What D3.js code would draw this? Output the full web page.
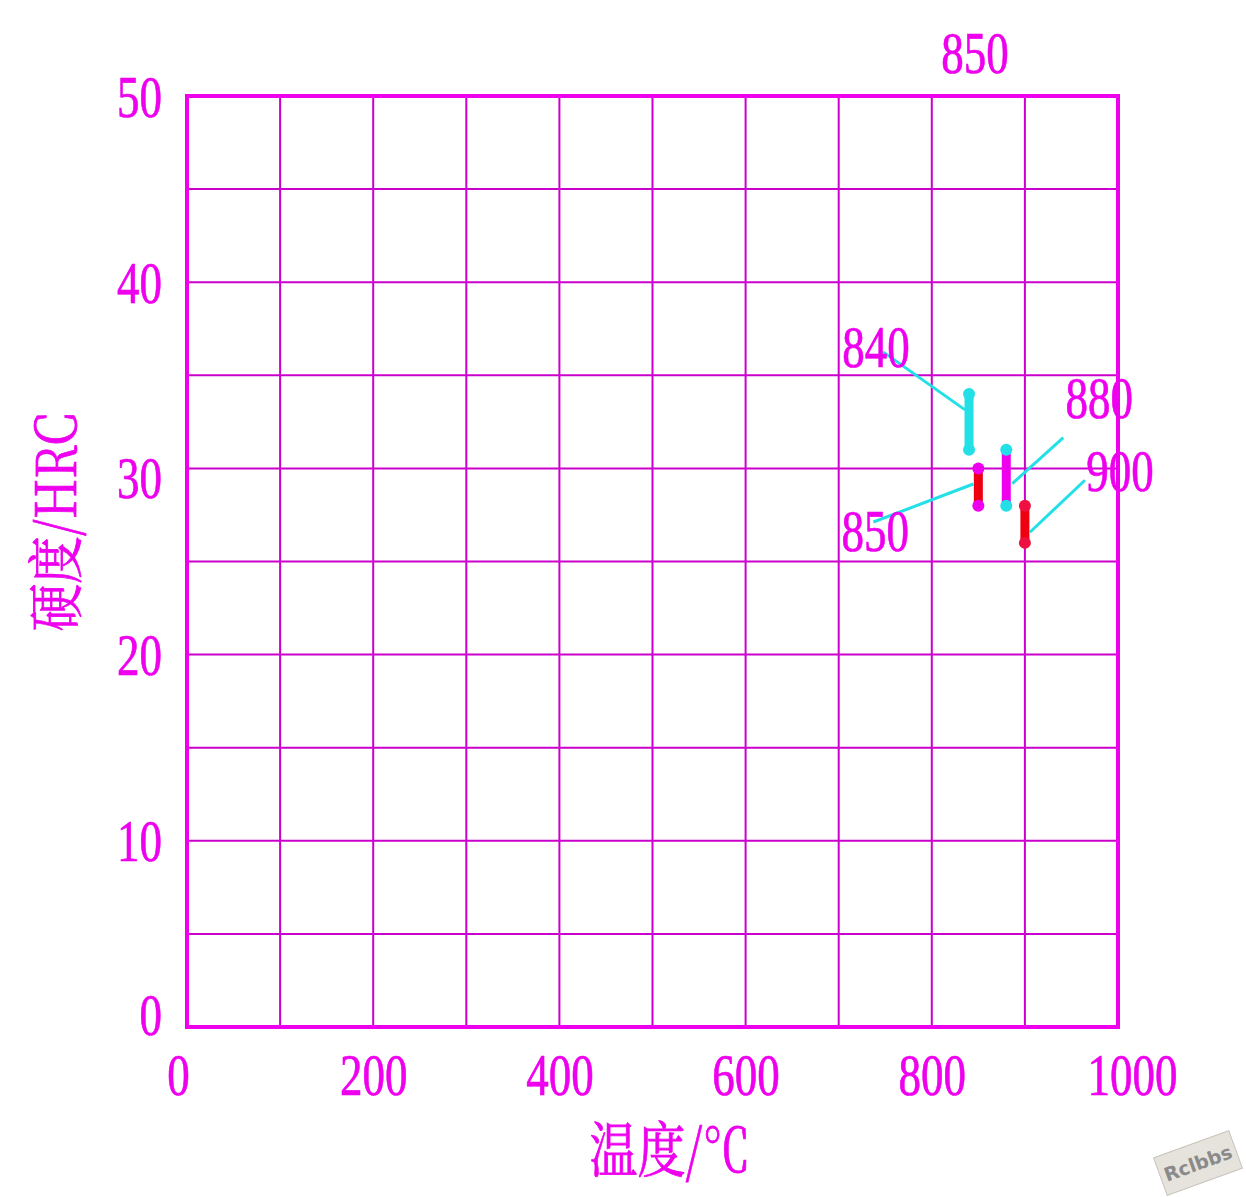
<!DOCTYPE html>
<html><head><meta charset="utf-8">
<script src="https://cdn.jsdelivr.net/npm/d3@7"></script>
<style>body{margin:0;background:#fff}svg{display:block}</style>
</head><body>
<svg id="c" width="1246" height="1197"></svg>
<script>
// ---- data ----
const temps   = [840, 850, 880, 900];          // quench temperature, °C
const hrcMin  = [31, 28, 28, 26];
const hrcMax  = [34, 30, 31, 28];
const labels  = ["840", "850", "880", "900"];
const xTicks  = [0, 200, 400, 600, 800, 1000];
const yTicks  = [0, 10, 20, 30, 40, 50];
const topNote = "850";
const xTitle  = "温度/℃";
const yTitle  = "硬度/HRC";

// ---- styles ----
const MAG = "#ee00ee", GRID = "#cc00cc", CYAN = "#22e0e6", RED = "#ee0010";
const SERIF = '"Liberation Serif", "Times New Roman", serif';
const CJK = '"Noto Serif CJK SC", "Noto Sans CJK SC", serif';
const barColor = [CYAN, RED, MAG, RED];
const capColor = [CYAN, MAG, CYAN, "#ee1040"];
// leader line / label offsets (px) relative to bar midpoint
const leader = [
  {lx:-86, ly:-70, ex:-4, ey:-12, tx:-128, ty:-55},
  {lx:-105, ly:35, ex:-5, ey:-3, tx:-138, ty:64},
  {lx:57, ly:-40, ex:6, ey:6, tx:58, ty:-60},
  {lx:60, ly:-44, ex:5, ey:8, tx:60, ty:-33}
];

const svg = d3.select("#c");
const x = d3.scaleLinear().domain([0, 1000]).range([187, 1118]);
const y = d3.scaleLinear().domain([0, 50]).range([1027, 96]);

function styleNum(sel) {
  return sel.style("font-family", SERIF).attr("font-size", 60)
    .attr("fill", MAG).attr("stroke", MAG).attr("stroke-width", 0.7);
}
function condText(g, tx, ty, str, anchor) {
  return styleNum(g.append("text")
    .attr("transform", `translate(${tx},${ty}) scale(0.75,1)`)
    .attr("text-anchor", anchor).text(str));
}

// grid
const grid = svg.append("g");
grid.selectAll(".vx").data(d3.range(100, 1000, 100)).join("line")
  .attr("x1", d => x(d)).attr("x2", d => x(d)).attr("y1", y(0)).attr("y2", y(50))
  .attr("stroke", GRID).attr("stroke-width", 2);
grid.selectAll(".hy").data(d3.range(5, 50, 5)).join("line")
  .attr("y1", d => y(d)).attr("y2", d => y(d)).attr("x1", x(0)).attr("x2", x(1000))
  .attr("stroke", GRID).attr("stroke-width", 2);
grid.append("rect").attr("x", x(0)).attr("y", y(50))
  .attr("width", x(1000) - x(0)).attr("height", y(0) - y(50))
  .attr("fill", "none").attr("stroke", MAG).attr("stroke-width", 4);

// axes (labels only, via d3 axis)
const xAxis = svg.append("g").attr("transform", `translate(0,${y(0)})`)
  .call(d3.axisBottom(x).tickValues(xTicks).tickSize(0).tickPadding(0).tickFormat(d3.format("d")));
xAxis.attr("font-family", null);
xAxis.select(".domain").remove();
xAxis.selectAll("text").each(function(d) {
  styleNum(d3.select(this).attr("y", null).attr("dy", null)
   .attr("transform", `translate(${d === 0 ? -9 : (d === 1000 ? 14 : 0)},68) scale(0.75,1)`));
});
const yAxis = svg.append("g").attr("transform", `translate(${x(0)},0)`)
  .call(d3.axisLeft(y).tickValues(yTicks).tickSize(0).tickPadding(0).tickFormat(d3.format("d")));
yAxis.attr("font-family", null);
yAxis.select(".domain").remove();
yAxis.selectAll("text").each(function(d) {
  styleNum(d3.select(this).attr("x", null).attr("dy", null)
   .attr("transform", `translate(-25,${d === 0 ? 7 : (d === 30 ? 29 : 20)}) scale(0.75,1)`)
   .attr("text-anchor", "end"));
});

// axis titles
svg.append("text").attr("transform", "translate(670,1172) scale(0.8,1)")
  .attr("text-anchor", "middle").style("font-family", CJK)
  .attr("font-size", 60).attr("fill", MAG).attr("stroke", MAG).attr("stroke-width", 0.8).text(xTitle);
svg.append("text").attr("transform", "translate(76,522) rotate(-90) scale(0.85,1)")
  .attr("text-anchor", "middle").style("font-family", CJK)
  .attr("font-size", 56).attr("fill", MAG).attr("stroke", MAG).attr("stroke-width", 0.8).text(yTitle);

// top note
condText(svg, 975, 73, topNote, "middle");

// ranges
const marks = svg.append("g");
temps.forEach((t, i) => {
  const cx = x(t), y1 = y(hrcMax[i]), y2 = y(hrcMin[i]), ym = (y1 + y2) / 2;
  const L = leader[i];
  marks.append("line").attr("x1", cx + L.ex).attr("y1", ym + L.ey)
    .attr("x2", cx + L.lx).attr("y2", ym + L.ly)
    .attr("stroke", CYAN).attr("stroke-width", 3);
  marks.append("line").attr("x1", cx).attr("x2", cx).attr("y1", y1).attr("y2", y2)
    .attr("stroke", barColor[i]).attr("stroke-width", 9).attr("stroke-linecap", "round");
  [y1, y2].forEach(yy => marks.append("circle").attr("cx", cx).attr("cy", yy).attr("r", 6)
    .attr("fill", capColor[i]));
  condText(marks, cx + L.tx + 35, ym + L.ty, labels[i], "middle");
});

// watermark
const wm = svg.append("g").attr("transform", "translate(1198,1163) rotate(-20)");
wm.append("rect").attr("x", -40).attr("y", -20).attr("width", 80).attr("height", 40)
  .attr("fill", "#e6e2dc").attr("stroke", "#c8c4bc");
wm.append("text").attr("text-anchor", "middle").attr("y", 7)
  .style("font-family", '"DejaVu Sans", sans-serif').attr("font-weight", "bold")
  .attr("font-size", 19).attr("fill", "#8a8a8a").text("Rclbbs");
</script>
</body></html>
